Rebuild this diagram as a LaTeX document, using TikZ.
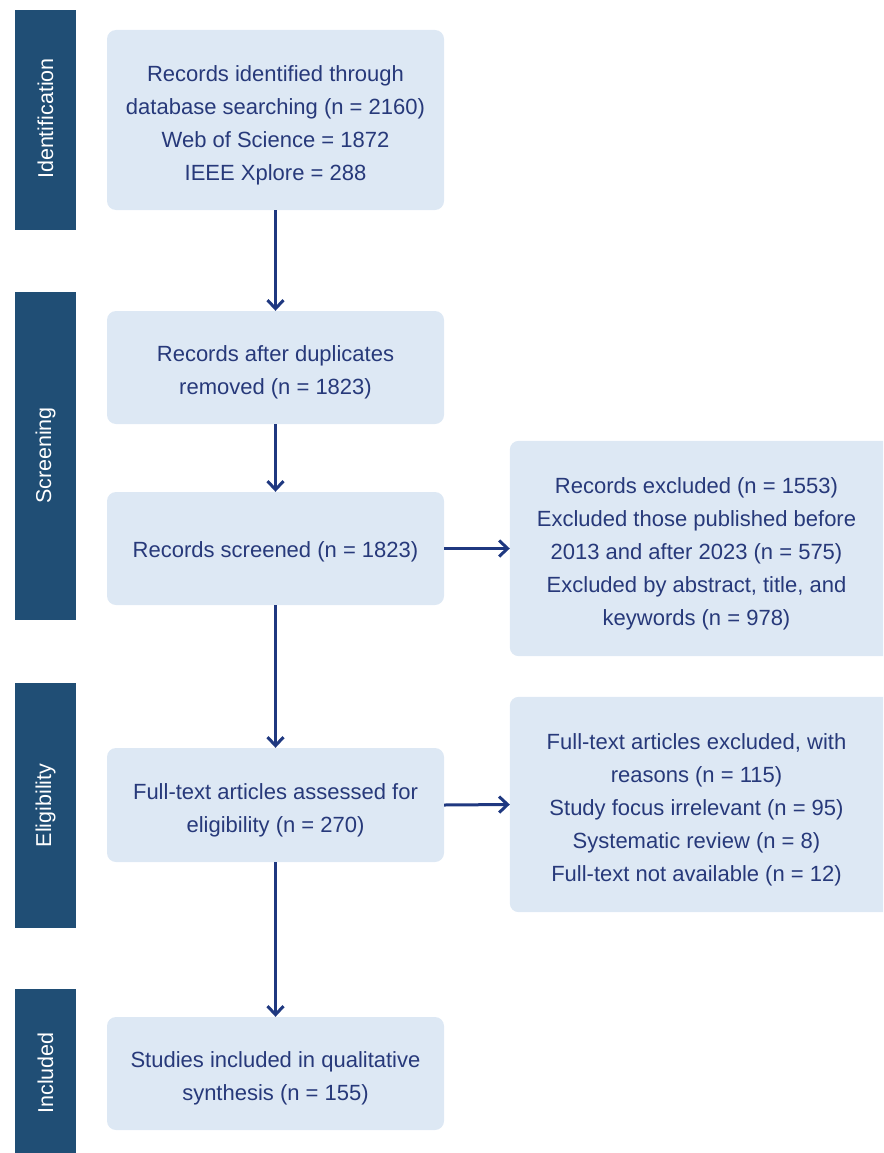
\documentclass[tikz,border=0pt]{standalone}
\usepackage{fontspec}
\setmainfont{Liberation Sans}
\usetikzlibrary{arrows.meta,backgrounds}
\definecolor{barblue}{HTML}{204E75}
\definecolor{boxfill}{HTML}{DDE8F4}
\definecolor{txtblue}{HTML}{27397A}
\definecolor{arrblue}{HTML}{1F3880}
\begin{document}
\begin{tikzpicture}[x=1pt,y=-1pt,
  bartext/.style={text=white,rotate=90,font=\fontsize{21.5}{24}\selectfont},
  box/.style={fill=boxfill,draw=none,rounded corners=9pt,minimum width=337pt,inner sep=0pt},
  rbox/.style={draw=none,minimum width=373pt,minimum height=215pt,inner sep=0pt},
  btext/.style={text=txtblue,align=center,inner sep=0pt,font=\fontsize{22}{33}\selectfont},
  arr/.style={draw=arrblue,line width=3pt,-{Straight Barb[length=8.5pt,width=16pt,line width=3pt]}}]
\useasboundingbox (0,0) rectangle (883,1153);
% side bars
\fill[barblue] (15,10) rectangle (76,230);
\node[bartext] (lid) at (45.5,118.5) {Identification};
\fill[barblue] (15,292) rectangle (76,620);
\node[bartext] (lsc) at (45.5,455.5) {Screening};
\fill[barblue] (15,683) rectangle (76,928);
\node[bartext] (lel) at (45.5,805.5) {Eligibility};
\fill[barblue] (15,989) rectangle (76,1153);
\node[bartext] (lin) at (45.5,1073) {Included};
% main boxes
\node[box,minimum height=180pt] (b1) at (275.5,120) {};
\node[box,minimum height=113pt] (b2) at (275.5,367.5) {};
\node[box,minimum height=113pt] (b3) at (275.5,548.5) {};
\node[box,minimum height=114pt] (b4) at (275.5,805) {};
\node[box,minimum height=113pt] (b5) at (275.5,1073.5) {};
\node[btext] (t1) at ([yshift=-5pt]b1.center) {Records identified through\\database searching (n = 2160)\\Web of Science = 1872\\IEEE Xplore = 288};
\node[btext] (t2) at ([yshift=-5pt]b2.center) {Records after duplicates\\removed (n = 1823)};
\node[btext] (t3) at ([yshift=-3.5pt]b3.center) {Records screened (n = 1823)};
\node[btext] (t4) at ([yshift=-5pt]b4.center) {Full-text articles assessed for\\eligibility (n = 270)};
\node[btext] (t5) at ([yshift=-5pt]b5.center) {Studies included in qualitative\\synthesis (n = 155)};
% right boxes
\node[rbox] (r1) at (696.5,548.5) {};
\node[rbox] (r2) at (696.5,804.5) {};
\node[btext] (tr1) at ([yshift=-5.5pt]r1.center) {Records excluded (n = 1553)\\Excluded those published before\\2013 and after 2023 (n = 575)\\Excluded by abstract, title, and\\keywords (n = 978)};
\node[btext] (tr2) at ([yshift=-5pt]r2.center) {Full-text articles excluded, with\\reasons (n = 115)\\Study focus irrelevant (n = 95)\\Systematic review (n = 8)\\Full-text not available (n = 12)};
\begin{scope}[on background layer]
\clip (0,0) rectangle (883,1153);
\fill[boxfill,rounded corners=9pt] (r1.north west) rectangle ([xshift=20pt]r1.south east);
\fill[boxfill,rounded corners=9pt] (r2.north west) rectangle ([xshift=20pt]r2.south east);
\end{scope}
% connectors
\draw[arr] (b1.south) -- (b2.north);
\draw[arr] (b2.south) -- (b3.north);
\draw[arr] (b3.south) -- (b4.north);
\draw[arr] (b4.south) -- (b5.north);
\draw[arr] (b3.east) -- (r1.west);
\draw[arr] (b4.east) -- (r2.west);
\end{tikzpicture}
\end{document}
